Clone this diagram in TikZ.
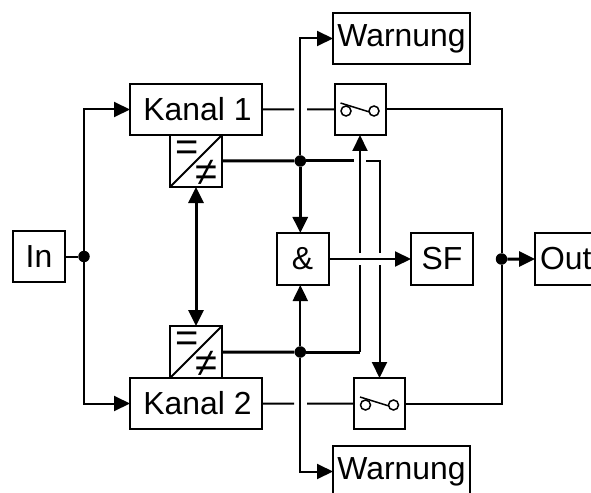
\documentclass[tikz,border=0pt]{standalone}
\usepackage{fontspec}
\setmainfont{Liberation Sans}
\usetikzlibrary{arrows.meta}
\tikzset{
  x=1bp,y=-1bp,
  box/.style={draw,line width=2bp,inner sep=0pt,outer sep=0pt,anchor=north west,font=\fontsize{32}{32}\selectfont},
  sym/.style={inner sep=0pt,font=\fontsize{40}{40}\selectfont},
  thinw/.style={line width=2bp},
  thickw/.style={line width=3bp},
  tip/.style={-{Triangle[length=16bp,width=15bp]}},
  bothtip/.style={{Triangle[length=16bp,width=15bp]}-{Triangle[length=16bp,width=15bp]}},
  dot/.style={circle,fill=black,inner sep=0pt,minimum size=11.5bp},
  contact/.style={circle,draw,fill=white,line width=1.5bp,inner sep=0pt,minimum size=10bp},
}
\begin{document}
\begin{tikzpicture}
\useasboundingbox (0,0) rectangle (591,493);
% boxes
\node[box,minimum width=52bp,minimum height=51bp] (in) at (13,231) {In};
\node[box,minimum width=132bp,minimum height=51bp] (k1) at (130,84) {\hspace*{3bp}Kanal 1};
\node[box,minimum width=132bp,minimum height=51bp] (k2) at (130,378) {\hspace*{3bp}Kanal 2};
\node[box,minimum width=52bp,minimum height=52bp] (c1) at (170,135) {};
\node[box,minimum width=52bp,minimum height=52bp] (c2) at (170,326) {};
\node[box,minimum width=51bp,minimum height=51bp] (s1) at (334.5,84) {};
\node[box,minimum width=51bp,minimum height=51bp] (s2) at (354,378) {};
\node[box,minimum width=52bp,minimum height=52bp] (and) at (276.5,233) {\&};
\node[box,minimum width=62bp,minimum height=52bp] (sf) at (411,233) {SF};
\node[box,minimum width=137bp,minimum height=51bp] (w1) at (333,13) {Warnung};
\node[box,minimum width=137bp,minimum height=51bp] (w2) at (333,446) {Warnung};
\node[box,minimum width=70bp,minimum height=52bp,text width=66bp,align=left] (out) at (535,233) {\hspace*{3bp}Out};
% converters
\foreach \c in {c1,c2}{
  \draw[line width=2bp] (\c.south west) -- (\c.north east);
  \node[sym] at ([xshift=-8.5bp,yshift=10bp]\c.center) {=};
  \node[sym] at ([xshift=10.5bp,yshift=-12bp]\c.center) {≠};
}
% switches
\foreach \s in {s1,s2}{
  \draw[line width=1.5bp] ([xshift=-19.5bp,yshift=6.5bp]\s.center) -- ([xshift=9.5bp,yshift=-2.5bp]\s.center);
  \node[contact] at ([xshift=-14bp,yshift=-1.5bp]\s.center) {};
  \node[contact] at ([xshift=14bp,yshift=-1.5bp]\s.center) {};
}
% junctions
\node[dot] (dIn) at (84,256.5) {};
\node[dot] (dA) at (300.3,161) {};
\node[dot] (dB) at (300.3,352) {};
\node[dot] (dO) at (501.5,259) {};
% free ends
\coordinate (k1gapL) at (294,109.5);
\coordinate (k1gapR) at (307,109.5);
\coordinate (k2gapL) at (294,403.5);
\coordinate (k2gapR) at (307,403.5);
\coordinate (agapL) at (354,161);
\coordinate (agapR) at (366,161);
\coordinate (uGapT) at (360,253);
\coordinate (uGapB) at (360,265);
\coordinate (vGapT) at (379.5,253);
\coordinate (vGapB) at (379.5,265);
\coordinate (aCorner) at (379.5,161);
\coordinate (bCorner) at (360,352);
% input
\draw[thinw] (in.east |- dIn) -- (dIn);
\draw[thinw,tip] (dIn) |- (k1.west);
\draw[thinw,tip] (dIn) |- (k2.west);
% channel to switch
\draw[thinw] (k1.east) -- (k1gapL);
\draw[thinw] (k1gapR) -- (s1.west);
\draw[thinw] (k2.east) -- (k2gapL);
\draw[thinw] (k2gapR) -- (s2.west);
% comparison
\draw[thickw,bothtip] (c1.south) -- (c2.north);
\draw[thickw] (c1.east) -- (dA);
\draw[thickw] (c2.east) -- (dB);
\draw[thickw] (dA) -- (agapL);
\draw[thinw] (agapR) -- (aCorner) -- (vGapT);
\draw[thinw,tip] (vGapB) -- (aCorner |- s2.north);
\draw[thickw] (dB) -- (bCorner);
\draw[thinw] (bCorner) -- (uGapB);
\draw[thinw,tip] (uGapT) -- (bCorner |- s1.south);
% warnings and AND
\draw[thinw,tip] (dA) |- (w1.west);
\draw[thinw,tip] (dB) |- (w2.west);
\draw[thickw,tip] (dA) -- (dA |- and.north);
\draw[thinw,tip] (dB) -- (dB |- and.south);
\draw[thinw,tip] (and.east) -- (sf.west);
% output
\draw[thinw] (s1.east) -| (dO);
\draw[thinw] (s2.east) -| (dO);
\draw[thickw,tip] (dO) -- (out.west);
\end{tikzpicture}
\end{document}
